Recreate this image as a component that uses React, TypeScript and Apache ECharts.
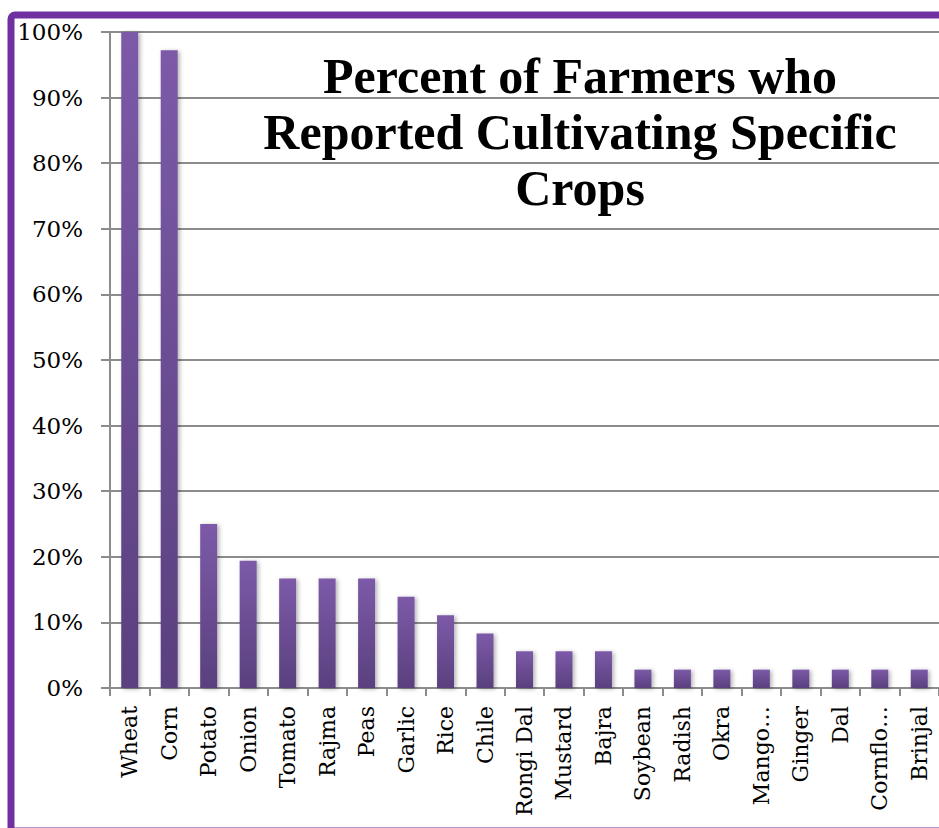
import React, { useEffect, useRef } from "react";
import * as echarts from "echarts";

const categories = [
  "Wheat", "Corn", "Potato", "Onion", "Tomato", "Rajma", "Peas", "Garlic", "Rice", "Chile",
  "Rongi Dal", "Mustard", "Bajra", "Soybean", "Radish", "Okra", "Mango…", "Ginger", "Dal", "Cornflo…", "Brinjal",
];
const percentValues = [
  1.0, 0.972, 0.25, 0.194, 0.167, 0.167, 0.167, 0.139, 0.111, 0.083,
  0.056, 0.056, 0.056, 0.028, 0.028, 0.028, 0.028, 0.028, 0.028, 0.028, 0.028,
];
const titleLines = ["Percent of Farmers who", "Reported Cultivating Specific", "Crops"];

export default function App() {
  const ref = useRef<HTMLDivElement>(null);
  useEffect(() => {
    if (!ref.current) return;
    const chart = echarts.init(ref.current, null, { renderer: "svg" });
    const grey = "#8c8c8c";
    chart.setOption({
      animation: false,
      backgroundColor: "#ffffff",
      title: {
        text: titleLines.join("\n"),
        left: 575,
        top: 43,
        textAlign: "center",
        textStyle: {
          fontFamily: "Liberation Serif",
          fontWeight: "bold",
          fontSize: 50,
          lineHeight: 56,
          color: "#000",
        },
      },
      grid: { left: 110, top: 32, width: 832, height: 656 },
      xAxis: {
        type: "category",
        data: categories,
        axisLine: { show: true, lineStyle: { color: grey, width: 2 } },
        axisTick: { show: true, length: 8, lineStyle: { color: grey, width: 2 } },
        axisLabel: {
          rotate: 90,
          margin: 18,
          interval: 0,
          fontFamily: "DejaVu Serif",
          fontSize: 22,
          color: "#000",
        },
      },
      yAxis: {
        type: "value",
        min: 0,
        max: 1,
        interval: 0.1,
        axisLine: { show: true, lineStyle: { color: grey, width: 2 } },
        axisTick: { show: true, length: 9, lineStyle: { color: grey, width: 2 } },
        splitLine: { show: true, lineStyle: { color: grey, width: 2 } },
        axisLabel: {
          margin: 27,
          fontFamily: "DejaVu Serif",
          fontSize: 23,
          color: "#000",
          formatter: (v: number) => Math.round(v * 100) + "%",
        },
      },
      series: [
        {
          type: "bar",
          data: percentValues,
          barWidth: 17,
          itemStyle: {
            color: new echarts.graphic.LinearGradient(0, 0, 0, 1, [
              { offset: 0, color: "#7c5aa8" },
              { offset: 1, color: "#5a407e" },
            ]),
            shadowColor: "rgba(0,0,0,0.3)",
            shadowBlur: 4,
            shadowOffsetX: 2,
            shadowOffsetY: 1,
          },
        },
      ],
      graphic: [
        {
          type: "rect",
          shape: { x: 11, y: 15, width: 1000, height: 816, r: 4 },
          style: { fill: "none", stroke: "#7030a0", lineWidth: 7 },
          z: 100,
        },
      ],
    });
    return () => chart.dispose();
  }, []);
  return (
    <div
      ref={ref}
      style={{ position: "fixed", left: 0, top: 0, width: 939, height: 828 }}
    />
  );
}
